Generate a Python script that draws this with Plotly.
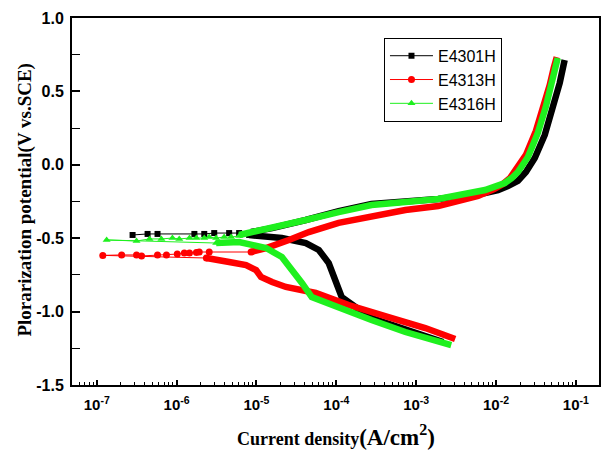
import plotly.graph_objects as go

# ---------------- data ----------------
# E4301H (black)
b_cath_i = [2.18e-3, 7.33e-4, 2.76e-4, 1.90e-4, 1.75e-4, 1.17e-4, 9.84e-5, 8.04e-5, 6.04e-5, 4.15e-5, 2.08e-5, 1.08e-5, 8.1e-6]
b_cath_e = [-1.207, -1.125, -1.044, -0.996, -0.969, -0.901, -0.805, -0.669, -0.580, -0.533, -0.499, -0.492, -0.478]
b_sp_i = [8.1e-6, 6.07e-6, 4.55e-6, 2.96e-6, 2.22e-6, 1.67e-6, 5.77e-7, 4.33e-7, 2.81e-7]
b_sp_e = [-0.478, -0.465, -0.465, -0.465, -0.471, -0.471, -0.471, -0.471, -0.478]
b_an_i = [8.57e-6, 1.57e-5, 4.15e-5, 1.07e-4, 2.76e-4, 7.33e-4, 1.89e-3, 7.29e-3, 1.06e-2, 1.41e-2,
          1.88e-2, 2.37e-2, 3.06e-2, 4.08e-2, 5.28e-2, 6.28e-2, 7.24e-2]
b_an_e = [-0.458, -0.431, -0.376, -0.315, -0.267, -0.247, -0.233, -0.192, -0.172, -0.144,
          -0.110, -0.049, 0.046, 0.203, 0.394, 0.557, 0.714]

# E4313H (red)
r_cath_i = [3.08e-3, 1.30e-3, 4.50e-4, 1.43e-4, 5.53e-5, 3.40e-5, 2.34e-5, 1.57e-5, 1.14e-5, 9.89e-6, 7.41e-6, 4.55e-6, 2.36e-6]
r_cath_e = [-1.187, -1.112, -1.037, -0.955, -0.873, -0.853, -0.832, -0.798, -0.764, -0.717, -0.683, -0.662, -0.635]
r_sp_i = [2.36e-6, 1.19e-7, 2.05e-7, 3.15e-7, 3.64e-7, 5.77e-7, 7.46e-7, 1.02e-6, 1.25e-6, 1.45e-6, 1.77e-6, 1.92e-6, 2.56e-6, 8.57e-6]
r_sp_e = [-0.635, -0.617, -0.614, -0.614, -0.621, -0.614, -0.614, -0.608, -0.601, -0.601, -0.597, -0.594, -0.594, -0.594]
r_an_i = [8.57e-6, 1.32e-5, 2.55e-5, 4.53e-5, 1.07e-4, 2.76e-4, 7.33e-4, 1.89e-3, 5.97e-3, 9.44e-3, 1.22e-2,
          1.50e-2, 1.77e-2, 2.37e-2, 3.16e-2, 3.97e-2, 4.71e-2, 5.28e-2, 5.77e-2]
r_an_e = [-0.594, -0.567, -0.512, -0.458, -0.396, -0.356, -0.308, -0.281, -0.212, -0.165, -0.131,
          -0.090, -0.035, 0.067, 0.230, 0.394, 0.544, 0.659, 0.734]

# E4316H (green)
g_cath_i = [2.75e-3, 7.33e-4, 2.76e-4, 1.07e-4, 4.93e-5, 3.71e-5, 2.78e-5, 2.08e-5, 1.32e-5, 6.07e-6, 3.13e-6]
g_cath_e = [-1.228, -1.139, -1.057, -0.975, -0.901, -0.805, -0.710, -0.628, -0.567, -0.526, -0.533]
g_sp_i = [3.13e-6, 1.33e-7, 3.15e-7, 4.58e-7, 6.45e-7, 8.87e-7, 1.08e-6, 1.45e-6, 1.77e-6, 2.22e-6, 2.56e-6, 3.13e-6, 3.94e-6, 4.82e-6, 6.07e-6]
g_sp_e = [-0.533, -0.512, -0.519, -0.505, -0.505, -0.499, -0.505, -0.499, -0.499, -0.499, -0.492, -0.499, -0.492, -0.492, -0.485]
g_an_i = [6.07e-6, 1.57e-5, 4.15e-5, 1.07e-4, 2.76e-4, 7.33e-4, 1.89e-3, 7.29e-3, 1.0e-2, 1.29e-2, 1.58e-2,
          1.88e-2, 2.51e-2, 3.34e-2, 4.20e-2, 4.85e-2, 5.60e-2, 5.93e-2]
g_an_e = [-0.478, -0.431, -0.376, -0.322, -0.274, -0.253, -0.233, -0.172, -0.151, -0.124, -0.090,
          -0.049, 0.053, 0.217, 0.394, 0.530, 0.666, 0.728]

x_tick_vals = [1e-7, 1e-6, 1e-5, 1e-4, 1e-3, 1e-2, 1e-1]
x_tick_text = ["10<sup>-7</sup>", "10<sup>-6</sup>", "10<sup>-5</sup>", "10<sup>-4</sup>",
               "10<sup>-3</sup>", "10<sup>-2</sup>", "10<sup>-1</sup>"]
y_tick_vals = [-1.5, -1.0, -0.5, 0.0, 0.5, 1.0]
y_tick_text = ["-1.5", "-1.0", "-0.5", "0.0", "0.5", "1.0"]

# ---------------- figure ----------------
series = [
    ("E4301H", "#000000", "square", 6, b_cath_i, b_cath_e, b_sp_i, b_sp_e, b_an_i, b_an_e),
    ("E4313H", "#ff0000", "circle", 7, r_cath_i, r_cath_e, r_sp_i, r_sp_e, r_an_i, r_an_e),
    ("E4316H", "#1ef01e", "triangle-up", 7, g_cath_i, g_cath_e, g_sp_i, g_sp_e, g_an_i, g_an_e),
]

fig = go.Figure()
for name, col, sym, msz, ci, ce, si, se, ai, ae in series:
    for xi, ye in ((ci, ce), (ai, ae)):
        fig.add_trace(go.Scatter(x=xi, y=ye, mode="lines", showlegend=False,
                                 line=dict(color=col, width=6.5), hoverinfo="skip",
                                 legendgroup=name))
    fig.add_trace(go.Scatter(x=si, y=se, mode="lines+markers", name=name,
                             legendgroup=name,
                             line=dict(color=col, width=1),
                             marker=dict(color=col, symbol=sym, size=msz)))

minor_vals = [m * 10.0 ** k for k in range(-8, 0) for m in range(2, 10)]

fig.update_layout(
    width=608, height=450,
    margin=dict(l=72, r=7, t=18, b=65),
    paper_bgcolor="white", plot_bgcolor="white",
    showlegend=True,
    legend=dict(x=0.592, y=0.946, xanchor="left", yanchor="top",
                bordercolor="black", borderwidth=1, bgcolor="white",
                font=dict(family="Liberation Sans", size=16, color="black"),
                itemwidth=43, tracegroupgap=0),
    xaxis=dict(type="log", range=[-7.31, -0.71], showgrid=False, zeroline=False,
               showline=True, linecolor="black", linewidth=2, mirror=True,
               ticks="inside", ticklen=5, tickwidth=1.5, tickcolor="black",
               tickmode="array", tickvals=x_tick_vals, ticktext=x_tick_text,
               tickfont=dict(family="Liberation Sans", size=15, color="black", weight="bold"),
               ticklabelstandoff=5,
               minor=dict(ticks="inside", ticklen=3, tickwidth=1, tickcolor="black",
                          tickmode="array", tickvals=minor_vals)),
    yaxis=dict(range=[-1.5, 1.0], showgrid=False, zeroline=False,
               showline=True, linecolor="black", linewidth=2, mirror=True,
               ticks="inside", ticklen=8, tickwidth=1.5, tickcolor="black",
               tickmode="array", tickvals=y_tick_vals, ticktext=y_tick_text,
               tickfont=dict(family="Liberation Sans", size=16, color="black", weight="bold"),
               ticklabelstandoff=3,
               minor=dict(ticks="inside", ticklen=8, tickwidth=1, tickcolor="black", dtick=0.25)),
    annotations=[
        dict(text="Current density<span style='font-size:23px'>(A/cm<sup>2</sup>)</span>",
             xref="paper", yref="paper", x=0.501, y=-0.138, xanchor="center", yanchor="middle",
             showarrow=False,
             font=dict(family="Liberation Serif", size=18, color="black", weight="bold")),
        dict(text="Plorarization potential(V vs.SCE)", textangle=-90,
             xref="paper", yref="paper", x=-0.09, y=0.504, xanchor="center", yanchor="middle",
             showarrow=False,
             font=dict(family="Liberation Serif", size=19, color="black", weight="bold")),
    ],
)

fig.write_html("out.html")
